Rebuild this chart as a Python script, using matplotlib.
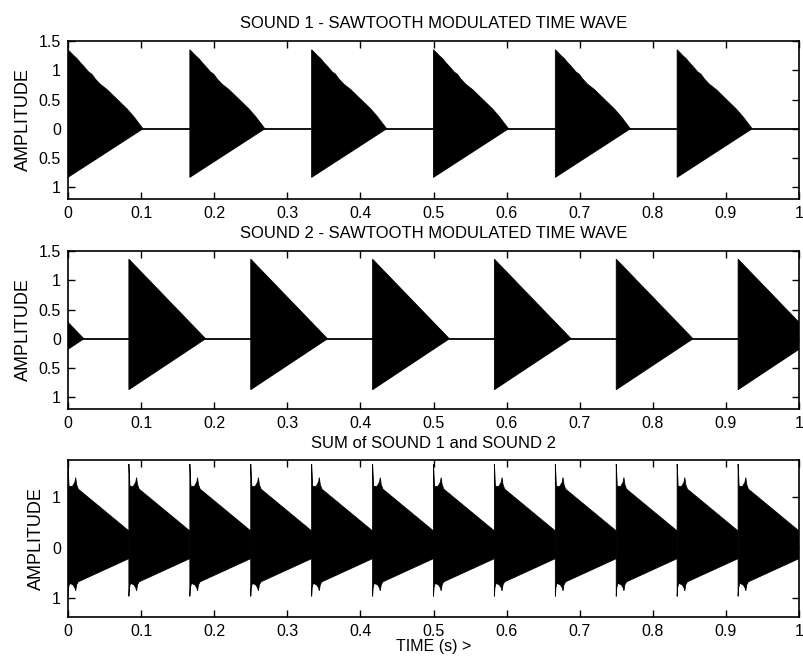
import matplotlib
matplotlib.use("Agg")
import matplotlib.pyplot as plt
import numpy as np

plt.rcParams['font.family'] = ['Liberation Sans', 'DejaVu Sans']

# ---- data ----
# Sound 1: burst start times (s) and burst envelope (offset from start, amplitude)
sound1_starts = [0.0, 0.1667, 0.3333, 0.5, 0.6667, 0.8333]
sound1_up_t = [0.0, 0.0032, 0.0078, 0.0123, 0.0169, 0.0214, 0.0283, 0.0328,
               0.0374, 0.0442, 0.0534, 0.0625, 0.0716, 0.0807, 0.0898, 0.1026]
sound1_up = [1.35, 1.31, 1.25, 1.20, 1.13, 1.07, 0.97, 0.93,
             0.85, 0.76, 0.67, 0.56, 0.45, 0.34, 0.21, 0.0]
sound1_low_t = [0.0, 0.1026]
sound1_low = [-0.83, 0.0]

# Sound 2: burst start times (s) and envelope
sound2_starts = [-0.0833, 0.0833, 0.25, 0.4167, 0.5833, 0.75, 0.9167]
sound2_up_t = [0.0, 0.105]
sound2_up = [1.36, 0.0]
sound2_low_t = [0.0, 0.105]
sound2_low = [-0.87, 0.0]

# Sum: period start times and envelope
sum_starts = [0.0, 0.0833, 0.1667, 0.25, 0.3333, 0.4167, 0.5, 0.5833,
              0.6667, 0.75, 0.8333, 0.9167]
sum_up_t = [0.0, 0.0007, 0.0014, 0.0059, 0.0095, 0.0105, 0.0118, 0.0141, 0.0833]
sum_up = [1.66, 1.45, 1.22, 1.21, 1.30, 1.39, 1.25, 1.16, 0.33]
sum_low_t = [0.0, 0.0007, 0.0023, 0.0068, 0.0095, 0.0105, 0.0118, 0.0141, 0.0833]
sum_low = [-0.97, -0.80, -0.71, -0.74, -0.80, -0.86, -0.74, -0.68, -0.22]

titles = ["SOUND 1 - SAWTOOTH MODULATED TIME WAVE",
          "SOUND 2 - SAWTOOTH MODULATED TIME WAVE",
          "SUM of SOUND 1 and SOUND 2"]
x_ticks = [0, 0.1, 0.2, 0.3, 0.4, 0.5, 0.6, 0.7, 0.8, 0.9, 1.0]
x_ticklabels = ["0", "0.1", "0.2", "0.3", "0.4", "0.5", "0.6", "0.7", "0.8", "0.9", "1"]
y_ticks_12 = [-1, -0.5, 0, 0.5, 1, 1.5]
y_ticklabels_12 = ["1", "0.5", "0", "0.5", "1", "1.5"]
y_ticks_3 = [-1, 0, 1]
y_ticklabels_3 = ["1", "0", "1"]

W, H = 804, 661
fig = plt.figure(figsize=(W / 100, H / 100), dpi=100)

def rect(top, bottom, left=68, right=799):
    return [left / W, 1 - bottom / H, (right - left) / W, (bottom - top) / H]

ax1 = fig.add_axes(rect(41, 199))
ax2 = fig.add_axes(rect(251, 409))
ax3 = fig.add_axes(rect(460, 617))


def draw_bursts(ax, starts, up_t, up, low_t, low):
    up_t = np.asarray(up_t); low_t = np.asarray(low_t)
    for s in starts:
        xs = np.concatenate([s + up_t, (s + low_t)[::-1]])
        ys = np.concatenate([np.asarray(up), np.asarray(low)[::-1]])
        ax.fill(xs, ys, color='black', lw=0.6, edgecolor='black')


ax1.axhline(0, color='black', lw=1.3)
draw_bursts(ax1, sound1_starts, sound1_up_t, sound1_up, sound1_low_t, sound1_low)
ax2.axhline(0, color='black', lw=1.3)
draw_bursts(ax2, sound2_starts, sound2_up_t, sound2_up, sound2_low_t, sound2_low)
draw_bursts(ax3, sum_starts, sum_up_t, sum_up, sum_low_t, sum_low)

for ax, t in zip([ax1, ax2, ax3], titles):
    ax.set_xlim(0, 1)
    ax.set_xticks(x_ticks)
    ax.set_xticklabels(x_ticklabels)
    ax.tick_params(direction='in', top=True, right=True, length=5, width=1,
                   labelsize=11.5, pad=5)
    ax.set_title(t, fontsize=12, pad=9)
    ax.set_ylabel("AMPLITUDE", fontsize=13, labelpad=5)
    for sp in ax.spines.values():
        sp.set_linewidth(1.2)

for ax in (ax1, ax2):
    ax.set_ylim(-1.2, 1.5)
    ax.set_yticks(y_ticks_12)
    ax.set_yticklabels(y_ticklabels_12)

ax3.set_ylim(-1.38, 1.74)
ax3.set_yticks(y_ticks_3)
ax3.set_yticklabels(y_ticklabels_3)
ax3.set_xlabel("TIME (s) >", fontsize=11.5, labelpad=0)

fig.savefig("out.png", dpi=100)
